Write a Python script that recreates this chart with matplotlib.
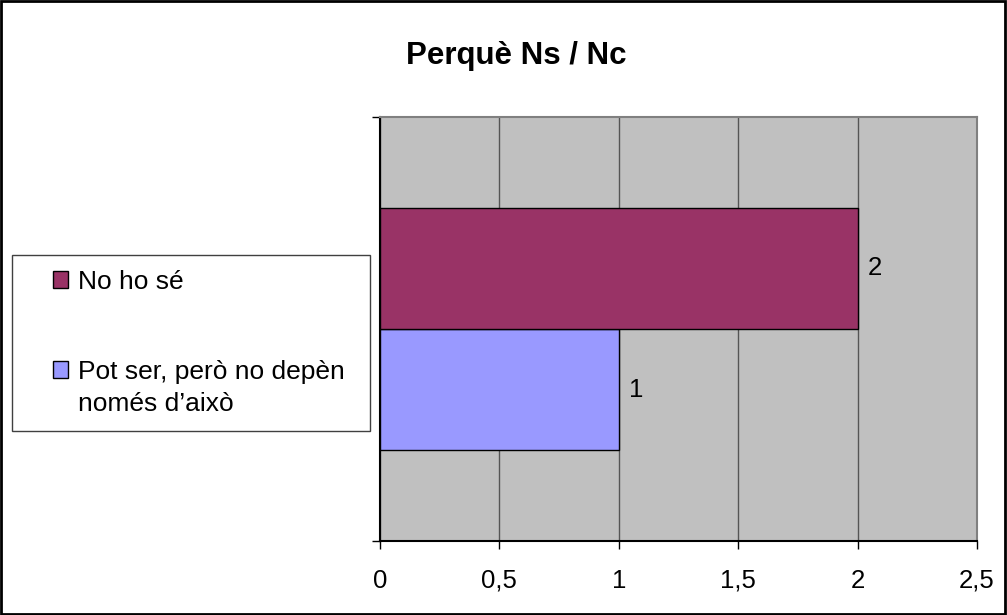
import matplotlib.pyplot as plt
from matplotlib.patches import Rectangle, Patch

plt.rcParams["font.family"] = ["Liberation Sans", "DejaVu Sans"]

# data
series_names = ["Pot ser, però no depèn\nnomés d’això", "No ho sé"]
series_values = [1, 2]
series_colors = ["#9999FF", "#993366"]
x_ticks = [0, 0.5, 1, 1.5, 2, 2.5]
x_tick_labels = ["0", "0,5", "1", "1,5", "2", "2,5"]
title = "Perquè Ns / Nc"

W, H = 1007, 615
fig = plt.figure(figsize=(W / 100, H / 100), dpi=100)

# plot area in pixels: left 380, right 977, top 117, bottom 541
ax = fig.add_axes([380 / W, 1 - 541 / H, (977 - 380) / W, (541 - 117) / H])
ax.set_facecolor("#C0C0C0")

# one category, two series, gap width 150%
gap = 1.5
positions = list(range(len(series_values)))
for pos, val, col in zip(positions, series_values, series_colors):
    ax.barh(pos, val, height=1.0, color=col, edgecolor="black", linewidth=1, zorder=3)
    ax.annotate(str(val), (val, pos), xytext=(7, 0), textcoords="offset points",
                ha="left", va="center", fontsize=18.5, zorder=4)

half = (len(series_values) + gap) / 2
mid = (positions[0] + positions[-1]) / 2
ax.set_ylim(mid - half, mid + half)
ax.set_xlim(x_ticks[0], x_ticks[-1])

ax.set_xticks(x_ticks)
ax.set_xticklabels(x_tick_labels, fontsize=18.5)
ax.set_yticks([mid - half, mid + half])
ax.set_yticklabels([])
ax.tick_params(axis="x", direction="out", length=6, width=1, pad=14, colors="black")
ax.tick_params(axis="y", direction="out", length=6, width=1)

ax.grid(axis="x", color="#555555", linewidth=1, zorder=1)
ax.set_axisbelow(True)
for side in ["top", "right"]:
    ax.spines[side].set_color("#808080")
    ax.spines[side].set_linewidth(1.5)
for side in ["left", "bottom"]:
    ax.spines[side].set_color("black")
    ax.spines[side].set_linewidth(1.5)

fig.text(516 / W, 1 - 56 / H, title, ha="center", va="center",
         fontsize=22.5, fontweight="bold")

# legend (frame drawn separately to match the box)
fig.patches.append(Rectangle((12 / W, 1 - 431 / H), (370 - 12) / W, (431 - 255) / H,
                             transform=fig.transFigure, fill=False,
                             edgecolor="#404040", linewidth=1))
handles = [Patch(facecolor=c, edgecolor="black", linewidth=1)
           for c in series_colors[::-1]]
first_lines = [n.split("\n")[0] for n in series_names[::-1]]
fig.legend(handles, first_lines, loc="upper left",
           bbox_to_anchor=(53 / W, 1 - 270 / H), frameon=False, fontsize=19,
           handlelength=0.58, handleheight=0.58, handletextpad=0.38,
           labelspacing=2.5, borderpad=0, borderaxespad=0)
# continuation line of the wrapped legend label
fig.text(78 / W, 1 - 404 / H, series_names[0].split("\n")[1], ha="left", va="center",
         fontsize=19)

# outer border
fig.patches.append(Rectangle((0.001, 0.002), 0.997, 0.996, transform=fig.transFigure,
                             fill=False, edgecolor="black", linewidth=2))

fig.savefig("out.png", dpi=100)
